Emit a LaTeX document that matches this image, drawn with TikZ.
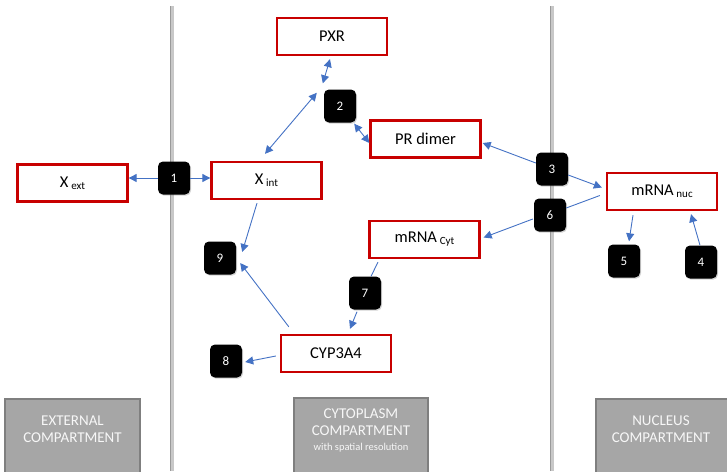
\documentclass[tikz,border=0pt]{standalone}
\usepackage{fontspec}
\setmainfont{Carlito}
\usetikzlibrary{arrows.meta,calc,shadows}
\definecolor{boxred}{HTML}{C80000}
\definecolor{arrblue}{HTML}{4472C4}
\definecolor{compfill}{HTML}{A6A6A6}
\definecolor{compedge}{HTML}{7F7F7F}
\definecolor{comptext}{HTML}{F7F7F7}
\definecolor{wallgray}{HTML}{C8C8C8}
\definecolor{walledge}{HTML}{9A9A9A}
\tikzset{
  species/.style={draw=boxred,line width=2.3pt,fill=white,minimum width=110pt,minimum height=37pt,inner sep=0pt,font=\fontsize{16.5}{18}\selectfont},
  proc/.style={fill=black,rounded corners=5pt,minimum width=32pt,minimum height=33pt,inner sep=0pt,text=white,font=\fontsize{13}{14}\selectfont,
    drop shadow={opacity=0.35,shadow xshift=1pt,shadow yshift=-1.2pt}},
  arr/.style={draw=arrblue,line width=0.9pt,-{Triangle[length=8pt,width=8pt]}},
  darr/.style={draw=arrblue,line width=0.9pt,{Triangle[length=8pt,width=8pt]}-{Triangle[length=8pt,width=8pt]}},
  plain/.style={draw=arrblue,line width=0.9pt},
  comp/.style={draw=compedge,line width=1.2pt,fill=compfill},
  comptxt/.style={text=comptext,font=\fontsize{15}{16}\selectfont,align=center},
  wall/.style={draw=walledge,line width=4pt},
  wallin/.style={draw=wallgray,line width=2.4pt}
}
\newcommand{\sbt}[1]{\,{\fontsize{11}{12}\selectfont\raisebox{-2pt}{#1}}}
\begin{document}
\begin{tikzpicture}[x=1pt,y=-1pt]
\useasboundingbox (0,0) rectangle (727,471);
% compartment walls
\coordinate (wlt) at (172,6); \coordinate (wlb) at (172,471);
\coordinate (wrt) at (552,6); \coordinate (wrb) at (552,471);
\draw[wall] (wlt) -- (wlb);
\draw[wallin] ([xshift=0.6pt]wlt) -- ([xshift=0.6pt]wlb);
\draw[wall] (wrt) -- (wrb);
\draw[wallin] ([xshift=0.6pt]wrt) -- ([xshift=0.6pt]wrb);
% compartment labels
\draw[comp] (5,399) rectangle (140,475);
\node[comptxt] at (72.5,421) {EXTERNAL};
\node[comptxt] at (72.5,438) {COMPARTMENT};
\draw[comp] (294,398) rectangle (428,475);
\node[comptxt] at (361,414) {CYTOPLASM};
\node[comptxt] at (361,431) {COMPARTMENT};
\node[text=comptext,font=\fontsize{10.5}{11}\selectfont] at (361,448) {with spatial resolution};
\draw[comp] (596,399) rectangle (730,475);
\node[comptxt] at (661,421) {NUCLEUS};
\node[comptxt] at (661,438) {COMPARTMENT};
% species
\node[species] (pxr) at (332,36.5) {PXR};
\node[species] (prdimer) at (425.5,139) {PR dimer};
\node[species] (xext) at (72.5,183) {X\sbt{ext}};
\node[species] (xint) at (266.5,180.5) {X\sbt{int}};
\node[species] (mrnanuc) at (662,191.5) {mRNA\sbt{nuc}};
\node[species] (mrnacyt) at (424.5,239.5) {mRNA\sbt{Cyt}};
\node[species] (cyp) at (336,353.5) {CYP3A4};
% processes
\node[proc] (n1) at (174,178) {1};
\node[proc] (n2) at (340,106) {2};
\node[proc] (n3) at (552,169) {3};
\node[proc] (n4) at (701,262) {4};
\node[proc] (n5) at (624,261) {5};
\node[proc] (n6) at (550,215) {6};
\node[proc] (n7) at (365,293) {7};
\node[proc] (n8) at (226,361) {8};
\node[proc] (n9) at (220,258) {9};
% connectors
\draw[arr] (n1.west) -- (n1.west -| xext.east);
\draw[arr] (n1.east) -- (n1.east -| xint.west);
\draw[darr] ($(xint.north)+(-1.5,-7)$) -- ($(n2.north west)+(-7,3.5)$);
\draw[darr] ($(n2.north west)+(-1,-6)$) -- ($(pxr.south)+(-2,3)$);
\draw[darr] ($(n2.south east)+(-2,1)$) -- ($(prdimer.west)+(0,4)$);
\draw[arr] ($(n3.west)+(0,-6)$) -- ($(prdimer.east)+(1,4)$);
\draw[arr] ($(n3.east)+(0,6)$) -- ($(mrnanuc.west)+(-4,-4)$);
\draw[plain] ($(mrnanuc.west)+(-6,4)$) -- ($(n6.east)+(0,-7)$);
\draw[arr] ($(n6.west)+(-1,4)$) -- ($(mrnacyt.east)+(3,-2)$);
\draw[arr] ($(mrnanuc.south)+(-29,4)$) -- ($(n5.north)+(5,-3)$);
\draw[arr] ($(n4.north)+(-1,0)$) -- ($(mrnanuc.south)+(29,3)$);
\draw[plain] ($(mrnacyt.south)+(-46.5,3)$) -- ($(n7.north)+(6,0)$);
\draw[arr] ($(n7.south)+(-8,2)$) -- ($(cyp.north)+(14,-5)$);
\draw[arr] ($(xint.south)+(-9.5,3)$) -- ($(n9.east)+(6,-6)$);
\draw[arr] ($(cyp.north west)+(9,-7)$) -- ($(n9.east)+(4,5)$);
\draw[arr] ($(cyp.west)+(-4,2.5)$) -- ($(n8.east)+(3,1)$);
\end{tikzpicture}
\end{document}
